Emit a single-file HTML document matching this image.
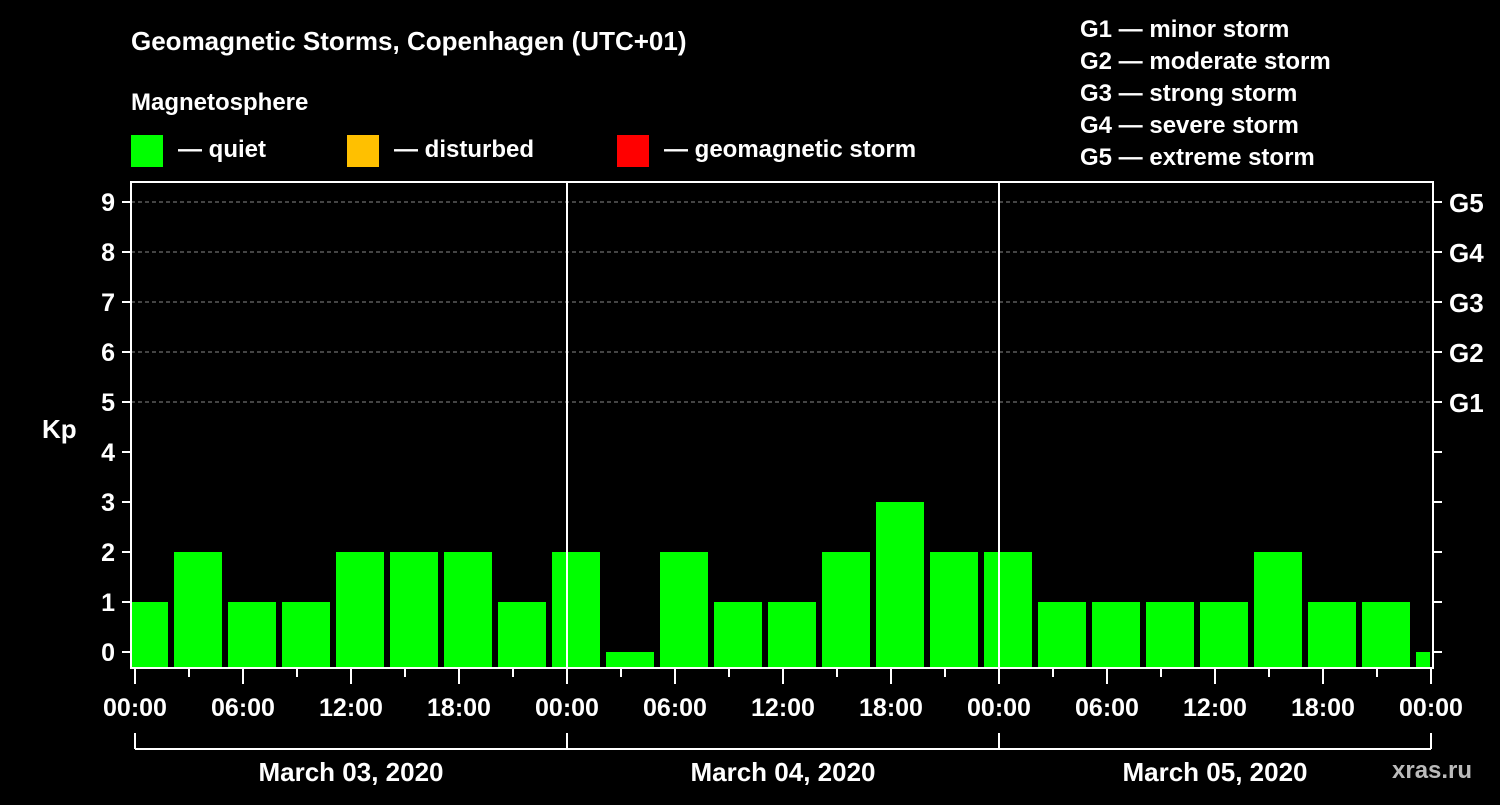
<!DOCTYPE html>
<html><head><meta charset="utf-8"><style>
body{margin:0;background:#000;width:1500px;height:800px;overflow:hidden}
text{font-family:"Liberation Sans",sans-serif;font-weight:bold;fill:#fff}
</style></head><body>
<svg id="c" width="1500" height="800" xmlns="http://www.w3.org/2000/svg">
<rect width="1500" height="800" fill="#000"/>
<text x="131" y="50" font-size="26">Geomagnetic Storms, Copenhagen (UTC+01)</text>
<text x="131" y="110" font-size="24">Magnetosphere</text>
<rect x="131" y="135" width="32" height="32" fill="#00ff00"/>
<text x="178" y="157" font-size="24">— quiet</text>
<rect x="347" y="135" width="32" height="32" fill="#ffc000"/>
<text x="394" y="157" font-size="24">— disturbed</text>
<rect x="617" y="135" width="32" height="32" fill="#ff0000"/>
<text x="664" y="157" font-size="24">— geomagnetic storm</text>
<g font-size="24">
<text x="1080" y="37">G1 — minor storm</text>
<text x="1080" y="69">G2 — moderate storm</text>
<text x="1080" y="101">G3 — strong storm</text>
<text x="1080" y="133">G4 — severe storm</text>
<text x="1080" y="165">G5 — extreme storm</text>
</g>
<text x="42" y="438" font-size="26">Kp</text>
<text x="1392" y="778" font-size="24" fill="#bbb" style="fill:#bbb">xras.ru</text>
<g id="g"></g>
</svg>
<script>
const kpValues=[1,2,1,1,2,2,2,1,2,0,2,1,1,2,3,2,2,1,1,1,1,2,1,1,0];
const yTicks=[0,1,2,3,4,5,6,7,8,9];
const gLabels=["G1","G2","G3","G4","G5"];
const xLabels=["00:00","06:00","12:00","18:00","00:00","06:00","12:00","18:00","00:00","06:00","12:00","18:00","00:00"];
const dayLabels=["March 03, 2020","March 04, 2020","March 05, 2020"];
const NS="http://www.w3.org/2000/svg";
const g=document.getElementById('g');
const L=131,R=1433,T=182,B=668,X0=135,DAY=432;
const y=v=>652-50*v;
const x=h=>X0+h*DAY/24;
function mk(t,a){const e=document.createElementNS(NS,t);for(const k in a)e.setAttribute(k,a[k]);g.appendChild(e);return e;}
// grid
[5,6,7,8,9].forEach(v=>{const e=mk('line',{x1:L,x2:R,y1:y(v),y2:y(v),stroke:'#888','stroke-dasharray':'4,3'});

});
// bars
kpValues.forEach((v,i)=>{let s=x(-1+3*i)+3,e2=s+48;s=Math.max(s,L+1);e2=Math.min(e2,R-3);
const r=mk('rect',{x:s,y:y(v),width:e2-s,height:B-y(v),fill:v>=5?'#ff0000':v>=4?'#ffc000':'#00ff00'});

});
// day separators
[1,2].forEach(d=>{const e=mk('line',{x1:x(24*d),x2:x(24*d),y1:T,y2:B,stroke:'#fff','stroke-width':2});

});
// frame
const f=mk('rect',{x:L,y:T,width:R-L,height:B-T,fill:'none',stroke:'#fff','stroke-width':2});


// y ticks
yTicks.forEach(v=>{mk('line',{x1:L-9,x2:L,y1:y(v),y2:y(v),stroke:'#fff','stroke-width':2});
mk('line',{x1:R,x2:R+9,y1:y(v),y2:y(v),stroke:'#fff','stroke-width':2});
const t=mk('text',{x:L-16,y:y(v)+9,'font-size':25,'text-anchor':'end'});t.textContent=v;

});
gLabels.forEach((s,i)=>{const t=mk('text',{x:1449,y:y(5+i)+10,'font-size':26});t.textContent=s;

});
// x ticks
for(let h=0;h<=72;h+=3){const big=h%6==0;mk('line',{x1:x(h),x2:x(h),y1:B,y2:B+(big?16:9),stroke:'#fff','stroke-width':2});}
xLabels.forEach((s,i)=>{const t=mk('text',{x:x(6*i),y:716,'font-size':25,'text-anchor':'middle'});t.textContent=s;

});
// date bracket
mk('line',{x1:x(0),x2:x(72),y1:749,y2:749,stroke:'#fff','stroke-width':2});
for(let d=0;d<=3;d++)mk('line',{x1:x(24*d),x2:x(24*d),y1:733,y2:749,stroke:'#fff','stroke-width':2});
dayLabels.forEach((s,i)=>{const t=mk('text',{x:x(24*i+12),y:781,'font-size':26,'text-anchor':'middle'});t.textContent=s;

});
</script>
</body></html>
